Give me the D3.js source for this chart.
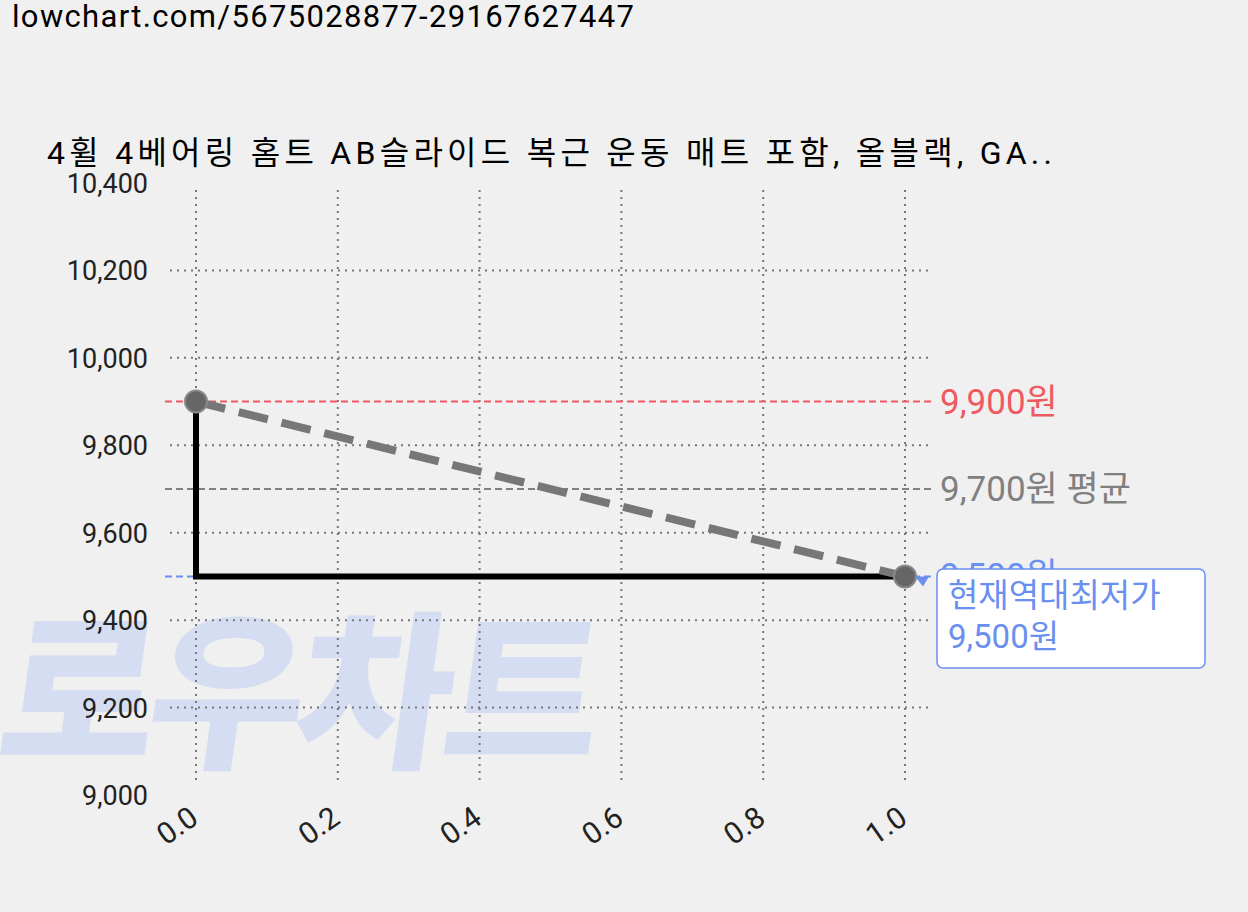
<!DOCTYPE html>
<html><head><meta charset="utf-8">
<script src="https://cdn.jsdelivr.net/npm/d3@7"></script>
<style>
body{margin:0;background:#f0f0f0;}
text{font-family:Roboto,"Noto Sans CJK KR",sans-serif;}
</style></head>
<body><svg id="c" width="1248" height="912"></svg>
<script>
var xs = [0, 1];
var prices = [9900, 9500];
var yTicks = [9000, 9200, 9400, 9600, 9800, 10000, 10200, 10400];
var xTicks = [0, 0.2, 0.4, 0.6, 0.8, 1.0];
var maxPrice = 9900, avgPrice = 9700, minPrice = 9500;

var svg = d3.select("#c");
var x = d3.scaleLinear().domain([0, 1]).range([196, 905]);
var y = d3.scaleLinear().domain([9000, 10400]).range([795, 183]);
var fmt = d3.format(",");

svg.append("text").attr("x", 12).attr("y", 27).attr("font-size", 31).attr("textLength", 622).text("lowchart.com/5675028877-29167627447");
svg.append("text").attr("x", 47).attr("y", 164).attr("font-size", 32).attr("textLength", 1005).text("4휠 4베어링 홈트 AB슬라이드 복근 운동 매트 포함, 올블랙, GA..");

// watermark
svg.append("text").attr("x", 0).attr("y", 755).attr("font-size", 170).attr("font-weight", 900)
  .attr("fill", "#d4ddf1").attr("transform", "skewX(-8) translate(100,0)").attr("textLength", 600).text("로우차트");

// grid
svg.selectAll(".hg").data(yTicks.filter(function(d){return d>9000 && d<10400;})).enter().append("line")
  .attr("x1", 170).attr("x2", 933).attr("y1", y).attr("y2", y)
  .attr("stroke", "#777").attr("stroke-width", 2).attr("stroke-dasharray", "2,5");
svg.selectAll(".vg").data(xTicks).enter().append("line")
  .attr("x1", x).attr("x2", x).attr("y1", 190).attr("y2", 785)
  .attr("stroke", "#777").attr("stroke-width", 2).attr("stroke-dasharray", "2,5");

// y labels
svg.selectAll(".yl").data(yTicks).enter().append("text")
  .attr("x", 148).attr("y", function(d){return y(d)+10;}).attr("text-anchor", "end")
  .attr("font-size", 27).attr("fill", "#222").text(fmt);
// x labels
svg.selectAll(".xl").data(xTicks).enter().append("text")
  .attr("transform", function(d){return "translate(" + (x(d)+4) + ",822) rotate(-35)";})
  .attr("text-anchor", "end").attr("font-size", 30).attr("fill", "#222")
  .text(function(d){return d.toFixed(1);});

// reference lines
var refs = [
  {v: maxPrice, c: "#f0595f", t: fmt(maxPrice) + "원"},
  {v: avgPrice, c: "#808080", t: fmt(avgPrice) + "원 평균"},
  {v: minPrice, c: "#6a8ff0", t: fmt(minPrice) + "원"}
];
refs.forEach(function(r){
  svg.append("line").attr("x1", 165).attr("x2", 935).attr("y1", y(r.v)).attr("y2", y(r.v))
    .attr("stroke", r.c).attr("stroke-width", 2).attr("stroke-dasharray", "7,4");
  svg.append("text").attr("x", 940).attr("y", y(r.v)+12).attr("font-size", 35).attr("fill", r.c).text(r.t);
});

// step line
var pts = xs.map(function(d, i){return [d, prices[i]];});
svg.append("path").attr("fill", "none").attr("stroke", "#000").attr("stroke-width", 6)
  .attr("d", d3.line().x(function(d){return x(d[0]);}).y(function(d){return y(d[1]);}).curve(d3.curveStepBefore)(pts));
// trend dashed
svg.append("path").attr("fill", "none").attr("stroke", "#777").attr("stroke-width", 8).attr("stroke-dasharray", "30,14")
  .attr("d", d3.line().x(function(d){return x(d[0]);}).y(function(d){return y(d[1]);})(pts));
svg.selectAll(".pt").data(pts).enter().append("circle")
  .attr("cx", function(d){return x(d[0]);}).attr("cy", function(d){return y(d[1]);}).attr("r", 11)
  .attr("fill", "#666").attr("stroke", "#888").attr("stroke-width", 2);

// annotation
var g = svg.append("g");
g.append("rect").attr("x", 937).attr("y", 569).attr("width", 268).attr("height", 99).attr("rx", 6)
  .attr("fill", "#fff").attr("stroke", "#6a8ff0").attr("stroke-width", 1.5);
g.append("path").attr("d", "M" + (x(1)+10) + "," + (y(minPrice)) + "l14,0 l-6,10z").attr("fill", "#6a8ff0");
g.append("text").attr("x", 948).attr("y", 607).attr("font-size", 33).attr("fill", "#6a8ff0").text("현재역대최저가");
g.append("text").attr("x", 948).attr("y", 648).attr("font-size", 33).attr("fill", "#6a8ff0").text(fmt(minPrice) + "원");
</script></body></html>
